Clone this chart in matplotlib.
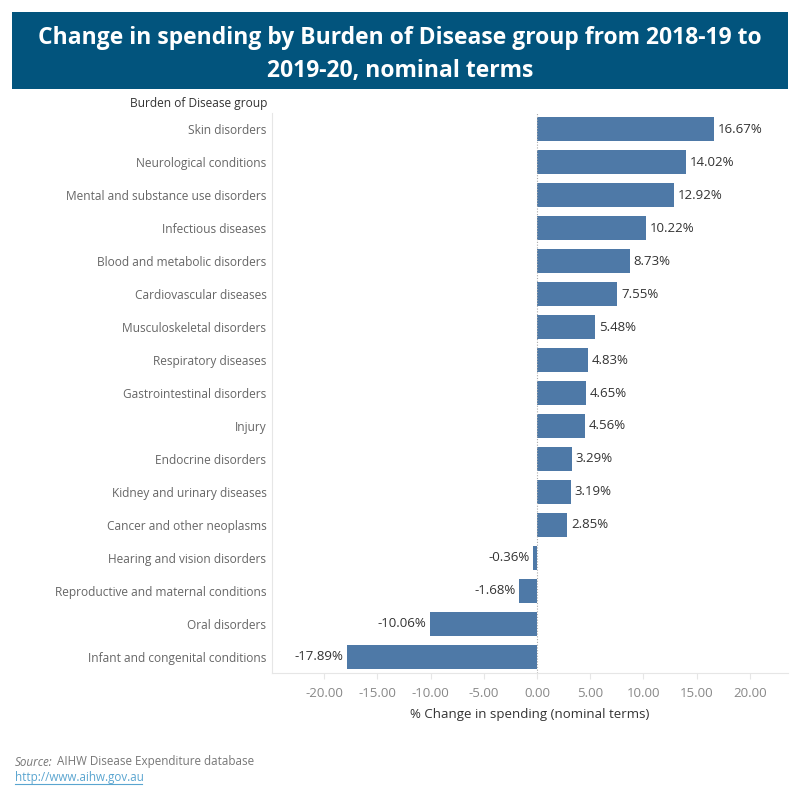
import matplotlib
matplotlib.use("Agg")
import matplotlib.pyplot as plt
from matplotlib.patches import Rectangle

categories = ["Skin disorders", "Neurological conditions", "Mental and substance use disorders",
              "Infectious diseases", "Blood and metabolic disorders", "Cardiovascular diseases",
              "Musculoskeletal disorders", "Respiratory diseases", "Gastrointestinal disorders",
              "Injury", "Endocrine disorders", "Kidney and urinary diseases",
              "Cancer and other neoplasms", "Hearing and vision disorders",
              "Reproductive and maternal conditions", "Oral disorders",
              "Infant and congenital conditions"]
values = [16.67, 14.02, 12.92, 10.22, 8.73, 7.55, 5.48, 4.83, 4.65, 4.56, 3.29, 3.19, 2.85,
          -0.36, -1.68, -10.06, -17.89]
xticks = [-20, -15, -10, -5, 0, 5, 10, 15, 20]

plt.rcParams['font.family'] = ['Open Sans', 'DejaVu Sans']
fig = plt.figure(figsize=(8, 8), dpi=100)

# Title banner
fig.patches.append(Rectangle((12/800, 1-89/800), 776/800, 77/800, transform=fig.transFigure,
                             facecolor='#02547D', edgecolor='none', zorder=0))
fig.text(0.5, 1-55/800, "Change in spending by Burden of Disease group from 2018-19 to\n2019-20, nominal terms",
         ha='center', va='center', color='white', fontsize=16.5, fontweight='bold', linespacing=1.5)

ax = fig.add_axes([272/800, 1-673/800, 516/800, 560/800])
ys = list(range(len(categories)))
ax.barh(ys, values, height=0.73, color='#4E79A7', zorder=2)
for y, v in zip(ys, values):
    ax.text(v + (0.35 if v >= 0 else -0.35), y, f"{v:.2f}%", va='center',
            ha='left' if v >= 0 else 'right', fontsize=9.5, color='#333333')
ax.set_ylim(16.5, -0.5)
ax.set_xlim(-24.9, 23.6)
ax.set_yticks(ys)
ax.set_yticklabels(categories, fontsize=8.6, color='#666666')
ax.set_xticks(xticks)
ax.set_xticklabels([f"{t:.2f}" for t in xticks], fontsize=9.5, color='#888888')
ax.tick_params(axis='y', length=0, pad=4)
ax.tick_params(axis='x', length=4, color='#e6e6e6', pad=6)
for s in ['top', 'right']:
    ax.spines[s].set_visible(False)
ax.spines['left'].set_color('#e6e6e6')
ax.spines['bottom'].set_color('#e6e6e6')
ax.axvline(0, color='#aaaaaa', lw=0.8, ls=(0, (1, 1.5)), zorder=3)
ax.set_xlabel("% Change in spending (nominal terms)", fontsize=9.5, color='#333333', labelpad=6)

fig.text(130/800, 1-104/800, "Burden of Disease group", fontsize=8.6, color='#333333', ha='left', va='center')

fig.text(15/800, 1-762/800, "Source:", fontsize=8.4, color='#777777', style='italic', ha='left', va='center')
fig.text(57/800, 1-762/800, "AIHW Disease Expenditure database", fontsize=8.4, color='#777777', ha='left', va='center')
fig.text(15/800, 1-777/800, "http://www.aihw.gov.au", fontsize=8.4, color='#5aa5d0', ha='left', va='center')
fig.lines.append(plt.Line2D([15/800, 142/800], [1-784/800, 1-784/800], transform=fig.transFigure,
                            color='#5aa5d0', lw=0.8))

fig.savefig("out.png", dpi=100)
